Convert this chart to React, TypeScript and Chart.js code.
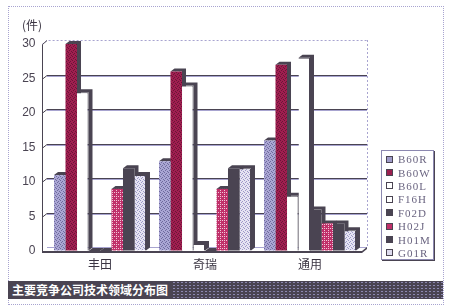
import React, { useEffect, useRef } from "react";
import { Chart, registerables } from "chart.js";
Chart.register(...registerables);

const categories = ["丰田", "奇瑞", "通用"];
const seriesNames = ["B60R", "B60W", "B60L", "F16H", "F02D", "H02J", "H01M", "G01R"];
const B60R = [11, 13, 16];
const B60W = [30, 26, 27];
const B60L = [23, 24, 8];
const F16H = [0, 1, 28];
const F02D = [0, 0, 6];
const H02J = [9, 9, 4];
const H01M = [12, 12, 4];
const G01R = [11, 12, 3];
const seriesValues = [B60R, B60W, B60L, F16H, F02D, H02J, H01M, G01R];
const yTicks = [0, 5, 10, 15, 20, 25, 30];
const unitLabel = "(件)";
const titleText = "主要竞争公司技术领域分布图";

const DARK = "#4a4452";
const LAV = "#a8a4d0";

type Sty = { bg: string; fg?: string; mask?: number[][]; border?: boolean; icon: string };
const styles: Sty[] = [
  { bg: "#aaa6d4", fg: "#6e6a9c", mask: [[1, 0, 0, 0], [0, 0, 1, 0], [0, 1, 0, 0], [0, 0, 0, 1]], icon: "#9f9bc9" },
  { bg: "#a01e50", fg: "#6a1636", mask: [[1, 0, 0, 0], [0, 0, 1, 0], [0, 1, 0, 0], [0, 0, 0, 1]], icon: "#9b1f4f" },
  { bg: "#ffffff", border: true, icon: "#ffffff" },
  { bg: "#ffffff", border: true, icon: "#ffffff" },
  { bg: DARK, icon: DARK },
  { bg: "#c0306a", fg: "#f0c8d8", mask: [[1, 0, 1, 0], [0, 0, 0, 0], [1, 0, 0, 0], [0, 0, 0, 0]], icon: "#c0306a" },
  { bg: DARK, icon: DARK },
  { bg: "#e6e4f2", fg: "#9c98c8", mask: [[1, 0, 0, 0], [0, 0, 1, 0], [0, 1, 0, 0], [0, 0, 0, 1]], border: true, icon: "#dddbee" },
];

function makeFill(s: Sty): any {
  if (!s.mask || !s.fg) return s.bg;
  const n = s.mask.length;
  const c = document.createElement("canvas");
  c.width = n;
  c.height = n;
  const x = c.getContext("2d")!;
  x.fillStyle = s.bg;
  x.fillRect(0, 0, n, n);
  x.fillStyle = s.fg;
  s.mask.forEach((row, j) => row.forEach((v, i) => { if (v) x.fillRect(i, j, 1, 1); }));
  return x.createPattern(c, "repeat");
}

const depthPlugin = {
  id: "depth",
  beforeDatasetsDraw(chart: any) {
    const ctx = chart.ctx;
    const dx = 4, dy = 3;
    ctx.save();
    ctx.fillStyle = DARK;
    chart.getSortedVisibleDatasetMetas().forEach((meta: any) => {
      meta.data.forEach((el: any) => {
        const { x, y, base, width } = el.getProps(["x", "y", "base", "width"], true);
        const l = x - width / 2, r = x + width / 2;
        ctx.beginPath();
        ctx.moveTo(l, y);
        ctx.lineTo(l + dx, y - dy);
        ctx.lineTo(r + dx, y - dy);
        ctx.lineTo(r + dx, base - dy);
        ctx.lineTo(r, base);
        ctx.lineTo(r, y);
        ctx.closePath();
        ctx.fill();
      });
    });
    ctx.restore();
  },
};

const wallPlugin = {
  id: "wall",
  beforeDatasetsDraw(chart: any) {
    const ctx = chart.ctx;
    const y = chart.scales.y;
    const L = 42, R = 367, dx = 5, dy = 4;
    ctx.save();
    ctx.lineWidth = 1;
    yTicks.forEach((v) => {
      const py = Math.round(y.getPixelForValue(v));
      if (v === 0) return;
      if (v === yTicks[yTicks.length - 1]) {
        ctx.strokeStyle = LAV;
        ctx.setLineDash([2, 2]);
        ctx.beginPath();
        ctx.moveTo(L, py + 0.5);
        ctx.lineTo(L + dx, py - dy + 0.5);
        ctx.lineTo(R, py - dy + 0.5);
        ctx.stroke();
        ctx.setLineDash([]);
        return;
      }
      ctx.strokeStyle = DARK;
      ctx.beginPath();
      ctx.moveTo(L, py + 0.5);
      ctx.lineTo(L + dx, py - dy + 0.5);
      ctx.lineTo(R, py - dy + 0.5);
      ctx.stroke();
      ctx.strokeStyle = LAV;
      ctx.beginPath();
      ctx.moveTo(L + dx, py - dy + 1.5);
      ctx.lineTo(R, py - dy + 1.5);
      ctx.stroke();
    });
    const yTop = Math.round(y.getPixelForValue(30));
    const y0 = Math.round(y.getPixelForValue(0));
    ctx.strokeStyle = LAV;
    ctx.setLineDash([2, 2]);
    ctx.beginPath();
    ctx.moveTo(R + 0.5, yTop - dy);
    ctx.lineTo(R + 0.5, y0 - dy);
    ctx.stroke();
    ctx.setLineDash([]);
    ctx.strokeStyle = LAV;
    ctx.beginPath();
    ctx.moveTo(L + dx, y0 - dy + 0.5);
    ctx.lineTo(R, y0 - dy + 0.5);
    ctx.stroke();
    ctx.strokeStyle = DARK;
    ctx.beginPath();
    ctx.moveTo(L + dx, yTop - dy + 0.5);
    ctx.lineTo(L + 0.5, yTop + 0.5);
    ctx.lineTo(L + 0.5, y0 + 1);
    ctx.stroke();
    ctx.restore();
  },
  afterDatasetsDraw(chart: any) {
    const ctx = chart.ctx;
    const y = chart.scales.y;
    const L = 42, R = 367, dx = 5, dy = 4;
    const y0 = Math.round(y.getPixelForValue(0));
    ctx.save();
    ctx.fillStyle = DARK;
    ctx.beginPath();
    ctx.moveTo(L, y0);
    ctx.lineTo(R - dx, y0);
    ctx.lineTo(R, y0 - dy);
    ctx.lineTo(R, y0 - dy + 2);
    ctx.lineTo(R - dx, y0 + 2);
    ctx.lineTo(L, y0 + 2);
    ctx.closePath();
    ctx.fill();
    ctx.restore();
  },
};

function ChartCanvas() {
  const ref = useRef<HTMLCanvasElement>(null);
  useEffect(() => {
    const canvas = ref.current!;
    const chart = new Chart(canvas, {
      type: "bar",
      data: {
        labels: categories,
        datasets: seriesNames.map((name, i) => ({
          label: name,
          data: seriesValues[i],
          backgroundColor: makeFill(styles[i]),
          borderColor: DARK,
          borderWidth: styles[i].border ? { top: 1, right: 1, left: 0, bottom: 0 } : 0,
          borderSkipped: false,
          barPercentage: 1,
          categoryPercentage: 0.876,
          clip: false as any,
        })),
      },
      options: {
        responsive: false,
        animation: false,
        layout: { padding: { top: 44, right: 87.5, left: 0, bottom: 0 } },
        plugins: { legend: { display: false }, tooltip: { enabled: false } },
        scales: {
          x: {
            grid: { display: false, drawTicks: false },
            border: { display: false },
            ticks: { padding: 6, color: "#3a3442", font: { family: "'Noto Sans CJK SC'", size: 12 } },
            afterFit: (s: any) => { s.height = 29; },
          },
          y: {
            min: 0,
            max: 30,
            grid: { display: true, color: "transparent", drawTicks: false },
            border: { display: false },
            ticks: { stepSize: 5, padding: 12, color: DARK, font: { family: "'Liberation Sans'", size: 12 } },
            afterFit: (s: any) => { s.width = 47.5; },
          },
        },
      },
      plugins: [wallPlugin, depthPlugin],
    } as any);
    return () => chart.destroy();
  }, []);
  return <canvas ref={ref} width={450} height={280} style={{ position: "absolute", left: 0, top: 0, width: 450, height: 280 }} />;
}

export default function App() {
  return (
    <div style={{ position: "absolute", left: 0, top: 0, width: 450, height: 306, background: "#fff", overflow: "hidden" }}>
      <div style={{ position: "absolute", left: 8, top: 6, width: 434, height: 297, border: `1px dotted ${LAV}` }} />
      <ChartCanvas />
      <div style={{ position: "absolute", left: 22, top: 18, fontFamily: "'Noto Sans CJK SC'", fontSize: 12, lineHeight: "14px", color: "#3a3442" }}>{unitLabel}</div>
      <div style={{ position: "absolute", left: 381, top: 150, width: 51, height: 108, border: "1px solid #8c88b0", boxShadow: `1px 1px 0 ${DARK}`, background: "#fff" }}>
        {seriesNames.map((name, i) => (
          <div key={name} style={{ position: "absolute", left: 4, top: 1.5 + i * 13.4, height: 13.4, display: "flex", alignItems: "center" }}>
            <span style={{ display: "inline-block", width: 7, height: 7, boxSizing: "border-box", background: styles[i].icon, border: `1px solid ${DARK}` }} />
            <span style={{ marginLeft: 5, fontFamily: "'Liberation Serif'", fontSize: 11, color: "#6a6480", letterSpacing: 1 }}>{name}</span>
          </div>
        ))}
      </div>
      <div style={{
        position: "absolute", left: 8, top: 281, width: 435, height: 18, background: DARK,
        backgroundImage: "radial-gradient(#8c88b0 0.7px, transparent 0.9px)", backgroundSize: "4px 3px",
      }}>
        <span style={{ display: "inline-block", background: DARK, paddingLeft: 4, paddingRight: 4, height: 18, lineHeight: "18px", color: "#fff", fontWeight: "bold", fontSize: 12, fontFamily: "'Noto Sans CJK SC'" }}>{titleText}</span>
      </div>
    </div>
  );
}
